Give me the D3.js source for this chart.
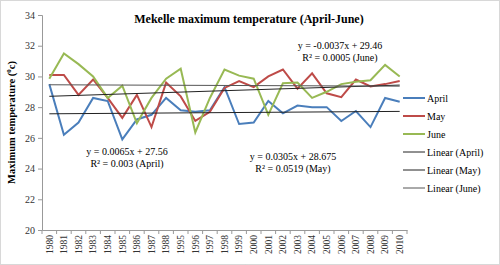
<!DOCTYPE html>
<html lang="en">
  <head>
    <meta charset="utf-8">
    <title>Mekelle maximum temperature</title>
    <script src="https://d3js.org/d3.v7.js"></script>
    <style>
      body { margin: 0; }
      text { font-family: "Liberation Serif", "Times New Roman", serif; }
    </style>
  </head>

  <body>

  <script>

// data

  var years = ["1980", "1981", "1982", "1983", "1984", "1985", "1986", "1987", "1988",
               "1995", "1996", "1997", "1998", "1999", "2000", "2001", "2002", "2003",
               "2004", "2005", "2006", "2007", "2008", "2009", "2010"];

  var april = [29.5, 26.2, 27.0, 28.6, 28.4, 25.9, 27.2, 27.5, 28.6, 27.8, 27.7, 27.8, 29.3,
               26.9, 27.0, 28.4, 27.6, 28.1, 28.0, 28.0, 27.1, 27.75, 26.7, 28.6, 28.35];
  var may = [30.1, 30.1, 28.8, 29.8, 28.6, 27.3, 28.8, 26.7, 29.6, 28.7, 27.1, 27.7, 29.25,
             29.7, 29.3, 30.0, 30.45, 29.2, 30.2, 28.9, 28.65, 29.8, 29.35, 29.5, 29.7];
  var june = [29.85, 31.5, 30.8, 30.0, 28.6, 29.4, 26.95, 28.6, 29.85, 30.5, 26.35, 28.6, 30.45,
              30.05, 29.85, 27.5, 29.55, 29.6, 28.6, 29.0, 29.5, 29.65, 29.75, 30.75, 30.0];

  var seriesNames = ["April", "May", "June"];
  var seriesColors = ["#4a7ebb", "#be4b48", "#98b954"];

  // trend equations as printed on the chart (slope, intercept)
  var trendSlopes = [0.0065, 0.0305, -0.0037];
  var trendIntercepts = [27.56, 28.675, 29.46];
  var trendLabels = [
    ["y = 0.0065x + 27.56", "R\u00b2 = 0.003 (April)"],
    ["y = 0.0305x + 28.675", "R\u00b2 = 0.0519 (May)"],
    ["y = -0.0037x + 29.46", "R\u00b2 = 0.0005 (June)"]
  ];

  var yTicks = [20, 22, 24, 26, 28, 30, 32, 34];

  var w = 500;
  var h = 265;
  var margin = {top: 15, right: 93, bottom: 35, left: 42};

  var svg = d3.select("body")
    .append("svg")
      .attr("width", w)
      .attr("height", h);

  svg.append("rect")
      .attr("x", 0.5)
      .attr("y", 0.5)
      .attr("width", w - 1)
      .attr("height", h - 1)
      .attr("fill", "white")
      .attr("stroke", "#b0b0b0")
      .attr("stroke-dasharray", "1,1");

  var xScale = d3.scaleBand()
      .domain(years)
      .range([margin.left, w - margin.right]);

  var yScale = d3.scaleLinear()
      .domain([20, 34])
      .range([h - margin.bottom, margin.top]);

  var xc = d => xScale(d) + xScale.bandwidth() / 2;

// axes

  var yAxis = d3.axisLeft(yScale)
      .tickValues(yTicks)
      .tickSize(4)
      .tickPadding(3);

  var gy = svg.append("g")
      .attr("transform", `translate(${margin.left}, 0)`)
      .call(yAxis);
  gy.selectAll("text").attr("font-size", 10).attr("fill", "#333")
      .attr("font-family", "Liberation Serif");
  gy.selectAll("line, path").attr("stroke", "#999");

  var xAxis = d3.axisBottom(xScale)
      .tickSize(0)
      .tickPadding(5);

  var gx = svg.append("g")
      .attr("transform", `translate(0, ${h - margin.bottom})`)
      .call(xAxis);
  gx.select(".domain").attr("stroke", "#999");
  gx.selectAll("text")
      .attr("font-size", 9.5)
      .attr("fill", "#333")
      .attr("font-family", "Liberation Serif")
      .attr("transform", "rotate(-90)")
      .attr("text-anchor", "end")
      .attr("x", -5)
      .attr("y", 0)
      .attr("dy", "0.35em");

  gx.selectAll(".sep")
    .data(d3.range(years.length + 1))
    .enter().append("line")
      .attr("x1", i => margin.left + i * xScale.step())
      .attr("x2", i => margin.left + i * xScale.step())
      .attr("y1", 0)
      .attr("y2", 4)
      .attr("stroke", "#999");

// titles

  svg.append("text")
      .attr("x", 249)
      .attr("y", 23)
      .attr("text-anchor", "middle")
      .attr("font-size", 12)
      .attr("font-weight", "bold")
      .text("Mekelle maximum temperature (April-June)");

  var yTitle = svg.append("text")
      .attr("transform", `translate(15, ${(margin.top + h - margin.bottom) / 2}) rotate(-90)`)
      .attr("text-anchor", "middle")
      .attr("font-size", 10.5)
      .attr("font-weight", "bold");
  yTitle.append("tspan").text("Maximum temperature (");
  yTitle.append("tspan").attr("baseline-shift", "super").attr("font-size", 7).text("0");
  yTitle.append("tspan").text("c)");

// series lines

  var allSeries = [april, may, june];

  var line = d3.line()
      .x((d, i) => xc(years[i]))
      .y(d => yScale(d));

  svg.selectAll(".series")
    .data(allSeries)
    .enter().append("path")
      .attr("class", "series")
      .attr("d", line)
      .attr("fill", "none")
      .attr("stroke", (d, i) => seriesColors[i])
      .attr("stroke-width", 2);

// trend lines (x = 1..n)

  var n = years.length;
  svg.selectAll(".trend")
    .data(trendSlopes)
    .enter().append("line")
      .attr("class", "trend")
      .attr("x1", xc(years[0]))
      .attr("x2", xc(years[n - 1]))
      .attr("y1", (d, i) => yScale(trendIntercepts[i] + d * 1))
      .attr("y2", (d, i) => yScale(trendIntercepts[i] + d * n))
      .attr("stroke", (d, i) => i == 2 ? "#555" : "#222")
      .attr("stroke-width", 1);

// equation labels

  var labelPos = [[127, 155], [293, 160], [340, 49]];
  trendLabels.forEach(function (lbl, i) {
    svg.append("text")
        .attr("x", labelPos[i][0])
        .attr("y", labelPos[i][1])
        .attr("text-anchor", "middle")
        .attr("font-size", 10)
        .text(lbl[0]);
    svg.append("text")
        .attr("x", labelPos[i][0])
        .attr("y", labelPos[i][1] + 12)
        .attr("text-anchor", "middle")
        .attr("font-size", 10)
        .text(lbl[1]);
  });

// legend

  var legendItems = seriesNames.map((s, i) => ({name: s, color: seriesColors[i], width: 2}))
      .concat(seriesNames.map((s, i) => ({name: "Linear (" + s + ")", color: i == 2 ? "#555" : "#222", width: 1})));

  var legend = svg.selectAll(".legend")
    .data(legendItems)
    .enter().append("g")
      .attr("class", "legend")
      .attr("transform", (d, i) => `translate(403, ${98 + i * 18})`);

  legend.append("line")
      .attr("x1", 0)
      .attr("x2", 22)
      .attr("stroke", d => d.color)
      .attr("stroke-width", d => d.width);

  legend.append("text")
      .attr("x", 24)
      .attr("dy", "0.35em")
      .attr("font-size", 10)
      .text(d => d.name);

    </script>

  </body>

</html>
